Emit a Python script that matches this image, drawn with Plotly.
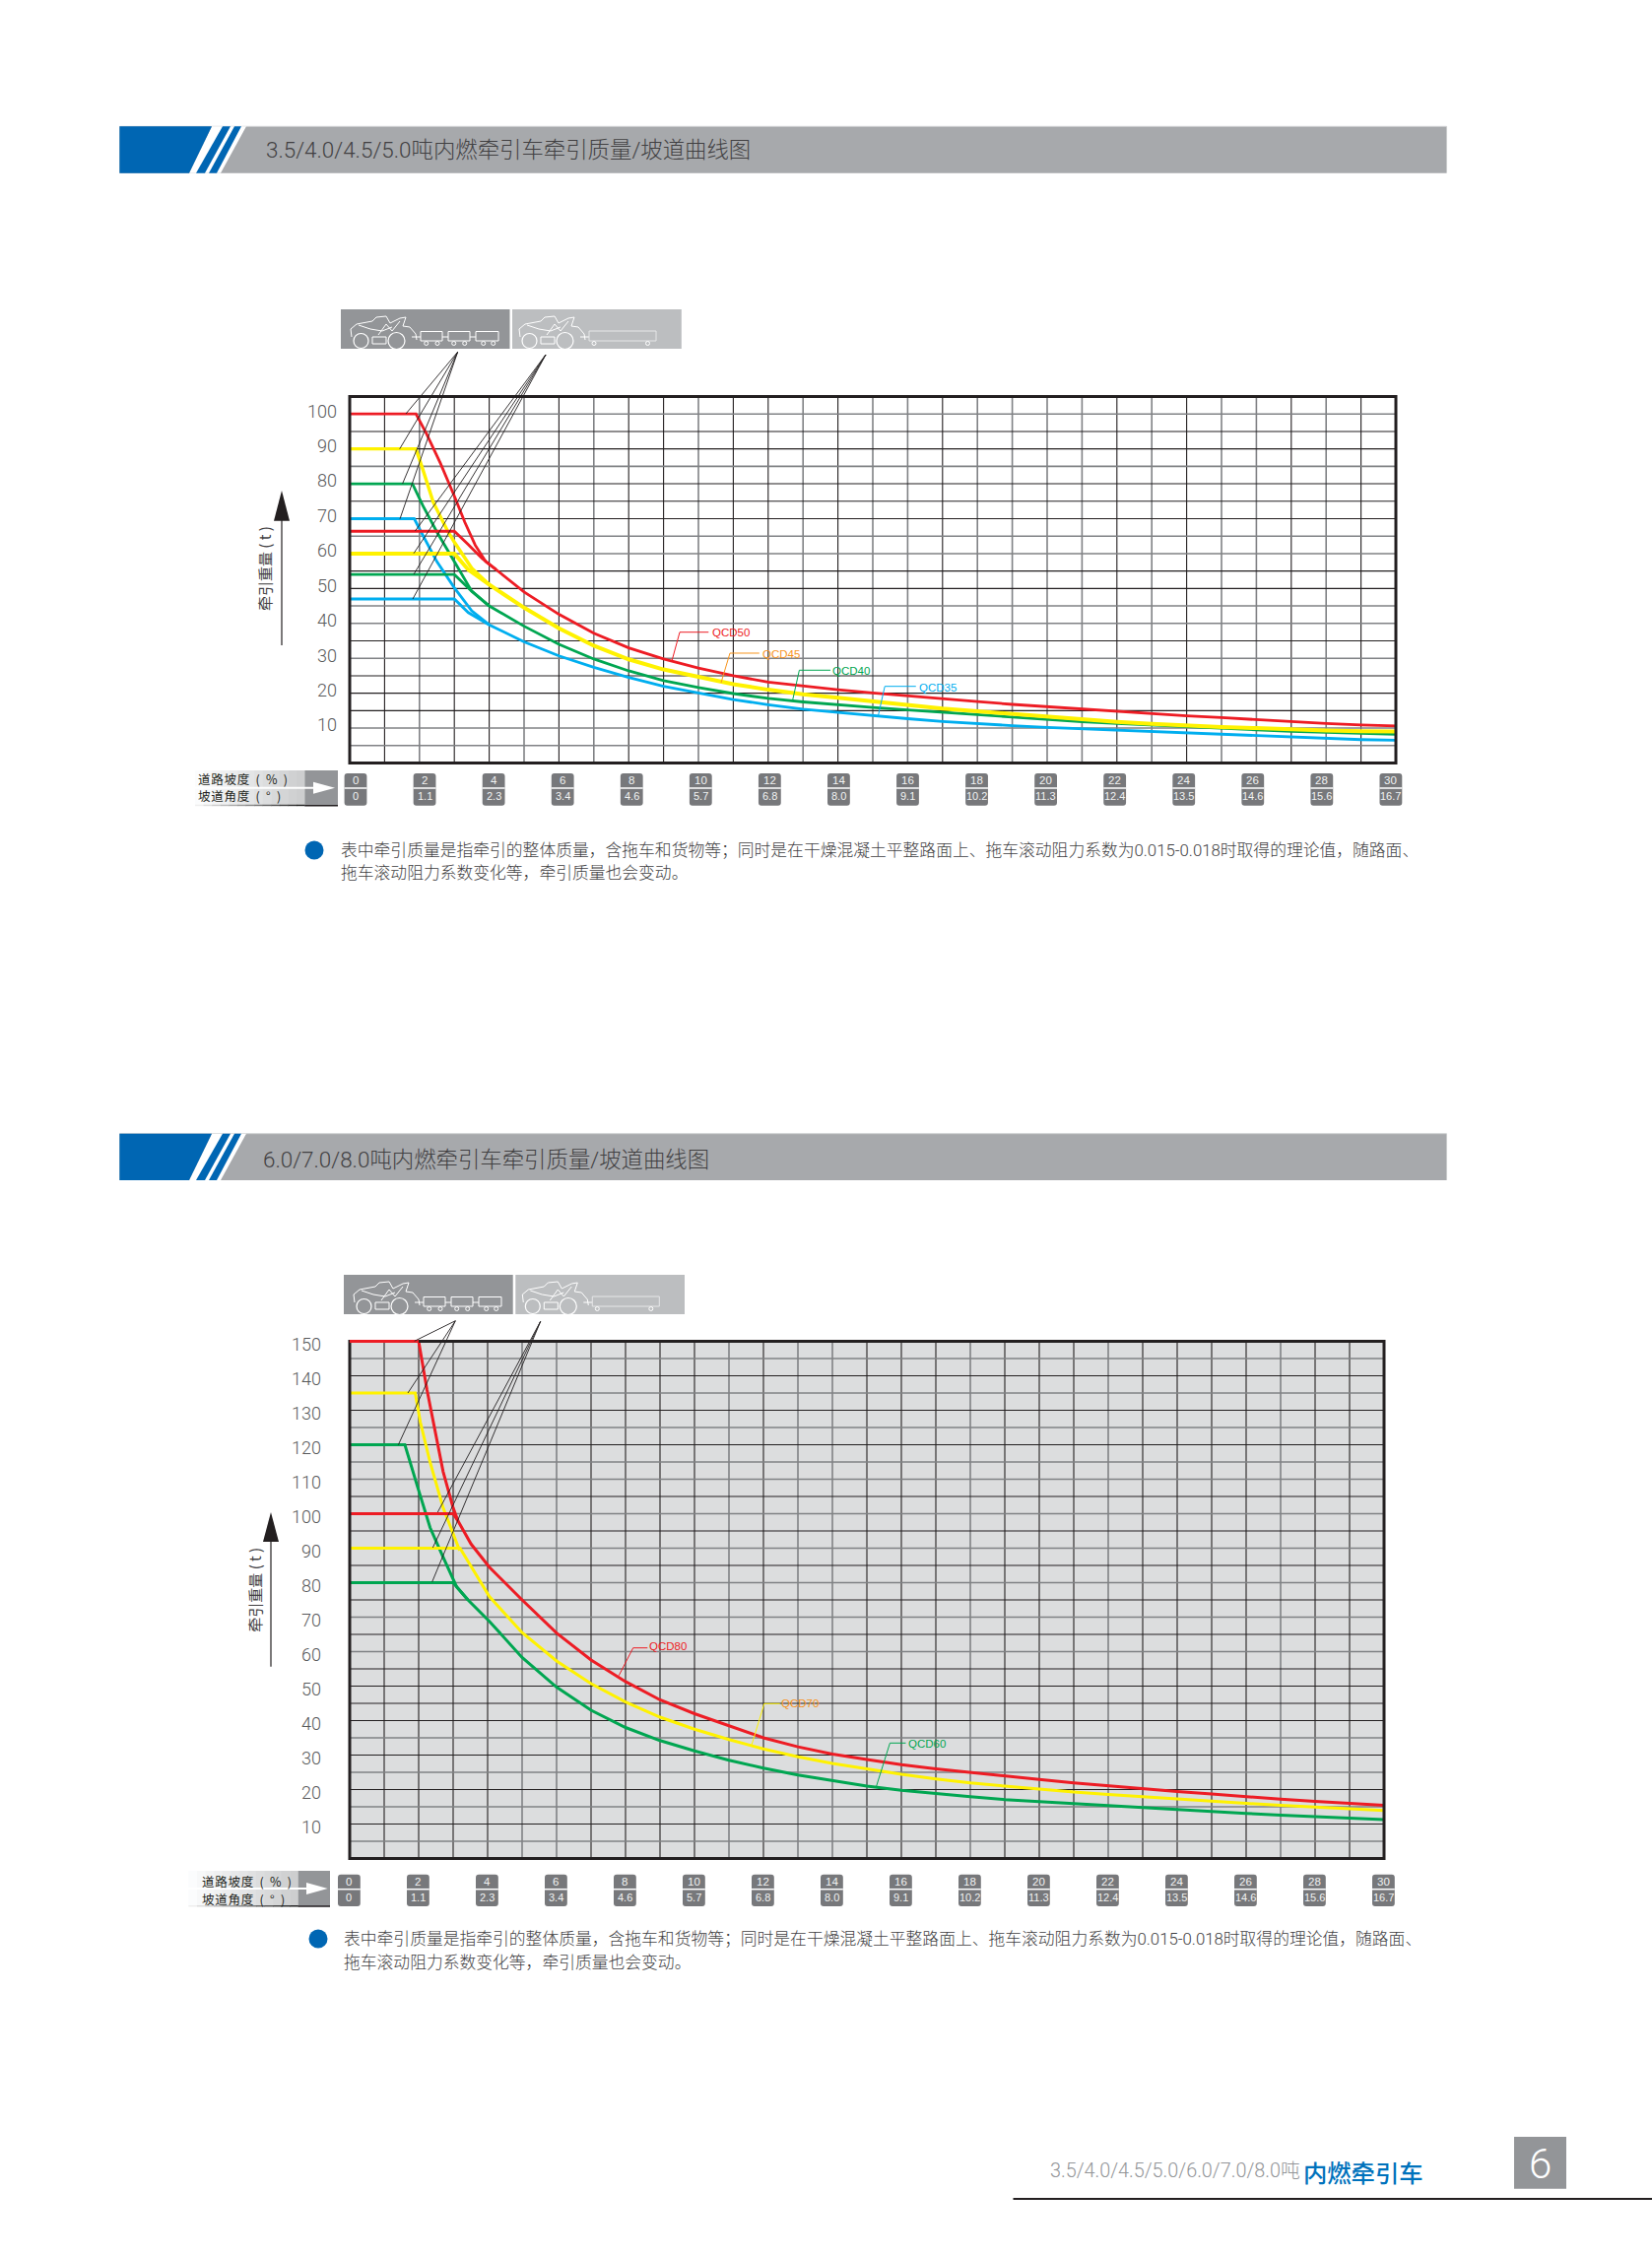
import plotly.graph_objects as go

W, H = 1677, 2291
TAIL_X = list(range(11, 31))

# ---------- chart 1 data ----------
QCD50_TOW_X = [0, 1.9, 2.2, 2.6, 3.0, 3.3, 3.6, 3.9, 4.2]
QCD50_TOW_Y = [100, 100, 94.4, 85.9, 76.5, 69, 62.4, 57.7, 55.4]
QCD50_FLAT_X = [0, 3.0, 3.4, 3.8, 4.2, 5, 6, 7, 8, 9, 10] + TAIL_X
QCD50_FLAT_Y = [66.4, 66.4, 62.6, 58.6, 55.4, 49, 42.6, 37.2, 33, 29.8, 27.2,
                25, 23.2, 22, 21, 20.1, 19.2, 18.4, 17.6, 16.8, 16.1, 15.4, 14.7, 14.1, 13.5, 13, 12.4, 11.8, 11.3, 10.9, 10.6]
QCD45_TOW_X = [0, 1.9, 2.1, 2.4, 2.8, 3.0, 3.5, 4.0]
QCD45_TOW_Y = [90, 90, 84, 74.6, 66.6, 63.3, 55.8, 51.1]
QCD45_FLAT_X = [0, 3.0, 3.4, 4.0, 5, 6, 7, 8, 9, 10] + TAIL_X
QCD45_FLAT_Y = [60, 60, 55.4, 51.1, 44.5, 38.6, 33.6, 29.7, 26.8, 24.6,
                22.6, 21, 19.7, 18.7, 17.6, 16.5, 15.6, 14.8, 14, 13.2, 12.4, 11.8, 11.2, 10.7, 10.3, 10, 9.6, 9.3, 9.1, 9.0]
QCD40_TOW_X = [0, 1.8, 2.1, 2.5, 3.0, 3.5, 4.0]
QCD40_TOW_Y = [80, 80, 73.7, 66.2, 57.7, 49.2, 45]
QCD40_FLAT_X = [0, 3.0, 3.5, 4.0, 5, 6, 7, 8, 9, 10] + TAIL_X
QCD40_FLAT_Y = [54, 54, 49.2, 45, 39.2, 34, 29.8, 26.4, 23.6, 21.6,
                19.9, 18.5, 17.5, 16.6, 15.9, 15.2, 14.5, 13.7, 13.1, 12.4, 11.8, 11.3, 10.8, 10.4, 10, 9.5, 9.1, 8.8, 8.5, 8.2]
QCD35_TOW_X = [0, 1.85, 2.1, 2.5, 3.0, 3.5, 4.0]
QCD35_TOW_Y = [70, 70, 65.2, 57.7, 50.2, 43.6, 39.6]
QCD35_FLAT_X = [0, 3.0, 3.4, 4.0, 5, 6, 7, 8, 9, 10] + TAIL_X
QCD35_FLAT_Y = [47, 47, 43.1, 39.6, 34.7, 30.7, 27.4, 24.5, 22, 20,
                18.2, 16.7, 15.4, 14.5, 13.5, 12.7, 11.9, 11.2, 10.7, 10.2, 9.8, 9.4, 9, 8.6, 8.2, 7.8, 7.4, 7, 6.7, 6.5]

# ---------- chart 2 data ----------
QCD80_TOW_X = [0, 2.0, 2.24, 2.43, 2.71, 3.0, 3.14]
QCD80_TOW_Y = [150, 150, 136, 126.5, 112.2, 101.7, 97.9]
QCD80_FLAT_X = [0, 3.0, 3.14, 3.52, 4.05, 5, 6, 7, 8, 9, 10] + TAIL_X
QCD80_FLAT_Y = [100, 100, 97.9, 91.2, 84.5, 75, 65.4, 57.6, 51.3, 46, 42,
                38.4, 35, 32.4, 30.3, 28.7, 27.2, 26, 24.9, 23.8, 22.9, 21.9, 21, 20.2, 19.4, 18.7, 17.9, 17.2, 16.6, 16, 15.4]
QCD70_TOW_X = [0, 1.9, 2.05, 2.33, 2.71, 3.0, 3.19]
QCD70_TOW_Y = [135, 135, 126.5, 115, 101.7, 94, 89.3]
QCD70_FLAT_X = [0, 3.2, 4.05, 5, 6, 7, 8, 9, 10] + TAIL_X
QCD70_FLAT_Y = [90, 90, 76, 65.5, 57.3, 50.7, 45.4, 41, 37.5,
                34.5, 31.8, 29.5, 27.6, 25.9, 24.4, 23.1, 21.9, 21, 20.1, 19.3, 18.6, 17.9, 17.2, 16.7, 16, 15.4, 14.9, 14.4, 13.9]
QCD60_TOW_X = [0, 1.6, 1.95, 2.33, 2.71, 3.1, 3.43]
QCD60_TOW_Y = [120, 120, 108.4, 96, 87.4, 78.8, 75]
QCD60_FLAT_X = [0, 3.0, 3.43, 4.05, 5, 6, 7, 8, 9, 10] + TAIL_X
QCD60_FLAT_Y = [80, 80, 75, 68.8, 58.3, 49.7, 43, 38, 34.2, 31.2,
                28.5, 26.2, 24.2, 22.5, 21, 19.8, 18.8, 17.9, 17.1, 16.5, 15.9, 15.3, 14.8, 14.3, 13.7, 13.1, 12.6, 12.1, 11.6, 11.3]

# ---------- axis labels ----------
GRADE_PCT = [0, 2, 4, 6, 8, 10, 12, 14, 16, 18, 20, 22, 24, 26, 28, 30]
GRADE_DEG = ["0", "1.1", "2.3", "3.4", "4.6", "5.7", "6.8", "8.0", "9.1", "10.2", "11.3", "12.4", "13.5", "14.6", "15.6", "16.7"]
Y1_TICKS = [10, 20, 30, 40, 50, 60, 70, 80, 90, 100]
Y2_TICKS = [10, 20, 30, 40, 50, 60, 70, 80, 90, 100, 110, 120, 130, 140, 150]
# grid lines drawn lighter and heavier
C1_V_LIGHT = [2, 5, 7, 10, 13, 15, 16, 18, 19, 20, 21, 23, 25, 26, 28]
C1_H_LIGHT = [100, 85, 65, 60, 45, 40, 30, 10, 5]
C2_V_LIGHT = [5, 6, 11, 13, 14, 18, 22, 27]
C2_H_LIGHT = [145, 135, 125, 115, 110, 100, 90, 80, 70, 60, 35, 25, 15, 5]

NOTE1 = "表中牵引质量是指牵引的整体质量，含拖车和货物等；同时是在干燥混凝土平整路面上、拖车滚动阻力系数为0.015-0.018时取得的理论值，随路面、"
NOTE2 = "拖车滚动阻力系数变化等，牵引质量也会变动。"
TITLE1 = "3.5/4.0/4.5/5.0吨内燃牵引车牵引质量/坡道曲线图"
TITLE2 = "6.0/7.0/8.0吨内燃牵引车牵引质量/坡道曲线图"
SLOPE_PCT = "道\u200a路\u200a坡\u200a度\u2002(\u2002%\u2002)"
SLOPE_DEG = "坡\u200a道\u200a角\u200a度\u2002(\u2002°\u2002)"
Y_TITLE = "牵引重量 ( t )"

RED, YEL, GRN, BLU, ORG = "#ed1c24", "#fff200", "#00a651", "#00aeef", "#f7941d"
GREY_BAR, BLUE_BAR = "#a7a9ac", "#0066b3"
INK = "#231f20"
FONT = "Liberation Sans, Noto Sans CJK SC"
LIGHT = "Roboto, Noto Sans CJK SC"
CJK = "Noto Sans CJK SC"


def PX(x):
    return x / W


def PY(y):
    return 1 - y / H


shapes = []
annos = []


def rect(x0, y0, x1, y1, fill, line=None, lw=0, layer="above"):
    shapes.append(dict(type="rect", xref="paper", yref="paper", x0=PX(x0), x1=PX(x1), y0=PY(y0), y1=PY(y1),
                       fillcolor=fill, line=dict(color=line or fill, width=lw), layer=layer))


def poly(pts, fill=None, line=None, lw=0, close=True):
    d = "M" + " L".join(f"{PX(a):.5f},{PY(b):.5f}" for a, b in pts) + (" Z" if close else "")
    s = dict(type="path", xref="paper", yref="paper", path=d, layer="above",
             line=dict(color=line or "rgba(0,0,0,0)", width=lw))
    if fill:
        s["fillcolor"] = fill
    shapes.append(s)


def seg(x0, y0, x1, y1, color, lw):
    shapes.append(dict(type="line", xref="paper", yref="paper", x0=PX(x0), x1=PX(x1), y0=PY(y0), y1=PY(y1),
                       line=dict(color=color, width=lw), layer="above"))


def circ(cx, cy, r, color="#ffffff", lw=1, fill=None):
    shapes.append(dict(type="circle", xref="paper", yref="paper", x0=PX(cx - r), x1=PX(cx + r), y0=PY(cy + r),
                       y1=PY(cy - r), line=dict(color=color, width=lw), fillcolor=fill or "rgba(0,0,0,0)", layer="above"))


def text(x, y, s, size, color, anchor="left", family=FONT, angle=0, weight=None):
    f = dict(size=size, color=color, family=family)
    if weight:
        f["weight"] = weight
    annos.append(dict(xref="paper", yref="paper", x=PX(x), y=PY(y), text=s, showarrow=False, xanchor=anchor,
                      yanchor="middle", font=f, textangle=angle, borderpad=0, borderwidth=0))


def header(y0, y1, title, tx, ty):
    rect(121.4, y0, 1468.6, y1, GREY_BAR)
    seg(121.4, y0, 1468.6, y0, "#d1d3d4", 1)
    poly([(192, y1), (215, y0), (250, y0), (224, y1)], fill="#ffffff")
    poly([(121.4, y0), (215, y0), (192, y1), (121.4, y1)], fill=BLUE_BAR)
    poly([(226, y0), (234, y0), (208, y1), (199, y1)], fill=BLUE_BAR)
    poly([(238, y0), (245, y0), (220, y1), (212, y1)], fill=BLUE_BAR)
    text(tx, ty, title, 22.4, "#414042", family=LIGHT, weight=300)


def rig(bx, by, flat):
    dx = -3 if flat else 0
    o = lambda pts: [(bx + a + dx, by + b) for a, b in pts]
    poly(o([(11, 28), (10, 20), (16, 15), (32, 12), (36, 8), (46, 7), (50, 14), (60, 9), (66, 8), (63, 17), (70, 18), (76, 25), (77, 31)]),
         line="#ffffff", lw=1, close=False)
    poly(o([(18, 16), (30, 20), (42, 22), (52, 18)]), line="#ffffff", lw=1, close=False)
    poly(o([(32, 28), (46, 28), (46, 35), (32, 35)]), line="#ffffff", lw=1)
    poly(o([(38, 26), (46, 15), (52, 22), (60, 12)]), line="#ffffff", lw=1, close=False)
    circ(bx + 20.5 + dx, by + 32, 7.5, lw=1.2)
    circ(bx + 56.5 + dx, by + 32, 8.5, lw=1.2)
    if flat:
        seg(bx + 69, by + 28, bx + 78, by + 28, "#ffffff", 1)
        rect(bx + 78, by + 22, bx + 146, by + 32, "rgba(0,0,0,0)", "#e6e7e8", 1)
        circ(bx + 83, by + 34.5, 2, fill=None)
        circ(bx + 137.5, by + 34.5, 2, fill=None)
    else:
        seg(bx + 72, by + 28, bx + 81, by + 28, "#ffffff", 1)
        for a, b in [(81, 103), (109, 131), (137, 160)]:
            rect(bx + a, by + 22.5, bx + b, by + 32, "rgba(0,0,0,0)", "#ffffff", 1)
        seg(bx + 103, by + 28, bx + 109, by + 28, "#ffffff", 1)
        seg(bx + 131, by + 28, bx + 137, by + 28, "#ffffff", 1)
        for a in (86.7, 98, 114.7, 125.7, 144.7, 154.7):
            circ(bx + a, by + 34.5, 2)


def grade_strip(y0, y1, ysep, base, step, lab_x, y_a, y_b, box_x0, box_x1, head_x0, head_x1):
    n = 14
    for i in range(n):
        t = i / (n - 1)
        g = int(255 - (255 - 205) * t)
        rect(box_x0 - 120 + i * 120 / n, y0, box_x0 - 120 + (i + 1) * 120 / n + 0.5, y1 - 1, f"rgb({g},{g + 1},{g + 2})")
        d = int(255 - (255 - 35) * t)
        rect(box_x0 - 120 + i * 120 / n, y1 - 1, box_x0 - 120 + (i + 1) * 120 / n + 0.5, y1 + 0.5, f"rgb({d},{d},{d})")
    rect(box_x0, y0, box_x1, y1, "#939598")
    seg(box_x0, y1, box_x1, y1, INK, 1.5)
    ym = (y0 + y1) / 2
    rect(box_x0 - 120, ym - 1, head_x0 + 1, ym + 1, "#ffffff")
    poly([(head_x0, ym - 6), (head_x1, ym), (head_x0, ym + 6)], fill="#ffffff")
    text(lab_x, y_a, SLOPE_PCT, 12.5, "#231f20", family=CJK)
    text(lab_x, y_b, SLOPE_DEG, 12.5, "#231f20", family=CJK)
    for g, a in zip(GRADE_PCT, GRADE_DEG):
        c = base + step * g
        l, r, q = c - 11.4, c + 11.4, 3
        t0, t1 = ysep - 15, y1
        d = (f"M{PX(l + q)},{PY(t0)} L{PX(r - q)},{PY(t0)} Q{PX(r)},{PY(t0)} {PX(r)},{PY(t0 + q)} "
             f"L{PX(r)},{PY(t1 - q)} Q{PX(r)},{PY(t1)} {PX(r - q)},{PY(t1)} L{PX(l + q)},{PY(t1)} "
             f"Q{PX(l)},{PY(t1)} {PX(l)},{PY(t1 - q)} L{PX(l)},{PY(t0 + q)} Q{PX(l)},{PY(t0)} {PX(l + q)},{PY(t0)} Z")
        shapes.append(dict(type="path", xref="paper", yref="paper", path=d, fillcolor="#77787b",
                           line=dict(color="#77787b", width=0), layer="above"))
        seg(l, ysep, r, ysep, "#ffffff", 1.5)
        text(c, ysep - 7.5, str(g), 11.5, "#f1f2f2", "center")
        text(c, ysep + 8, a, 11, "#f1f2f2", "center")


def note(cx, cy, tx, y1, y2):
    shapes.append(dict(type="circle", xref="paper", yref="paper", x0=PX(cx - 9.5), x1=PX(cx + 9.5), y0=PY(cy + 9.5),
                       y1=PY(cy - 9.5), fillcolor=BLUE_BAR, line=dict(width=0), layer="above"))
    text(tx, y1, NOTE1, 16.8, "#414042", family=LIGHT, weight=300)
    text(tx, y2, NOTE2, 16.8, "#414042", family=LIGHT, weight=300)


def grid(xa, ya, xmax, ymax, step_y, v_light, h_light):
    for v in range(1, xmax):
        light = v in v_light
        shapes.append(dict(type="line", xref=xa, yref=ya, x0=v, x1=v, y0=0, y1=ymax, layer="below",
                           line=dict(color="#808285" if light else "#231f20", width=1.6 if light else 1.1)))
    y = step_y
    while y < ymax:
        light = y in h_light
        shapes.append(dict(type="line", xref=xa, yref=ya, x0=0, x1=xmax, y0=y, y1=y, layer="below",
                           line=dict(color="#808285" if light else "#231f20", width=1.6 if light else 1.1)))
        y += step_y


fig = go.Figure()


def curve(x, y, color, name, ax, width):
    fig.add_trace(go.Scatter(x=x, y=y, mode="lines", name=name, line=dict(color=color, width=width, shape="linear"),
                             xaxis=ax[0], yaxis=ax[1], cliponaxis=False, showlegend=False, hoverinfo="skip"))


A1, A2 = ("x", "y"), ("x2", "y2")
curve(QCD35_TOW_X, QCD35_TOW_Y, BLU, "QCD35", A1, 2.8)
curve(QCD35_FLAT_X, QCD35_FLAT_Y, BLU, "QCD35", A1, 2.8)
curve(QCD40_TOW_X, QCD40_TOW_Y, GRN, "QCD40", A1, 2.8)
curve(QCD40_FLAT_X, QCD40_FLAT_Y, GRN, "QCD40", A1, 2.8)
curve(QCD45_TOW_X, QCD45_TOW_Y, YEL, "QCD45", A1, 3.4)
curve(QCD45_FLAT_X, QCD45_FLAT_Y, YEL, "QCD45", A1, 4.0)
curve(QCD50_TOW_X, QCD50_TOW_Y, RED, "QCD50", A1, 2.8)
curve(QCD50_FLAT_X, QCD50_FLAT_Y, RED, "QCD50", A1, 2.8)
curve(QCD60_TOW_X, QCD60_TOW_Y, GRN, "QCD60", A2, 3)
curve(QCD60_FLAT_X, QCD60_FLAT_Y, GRN, "QCD60", A2, 3)
curve(QCD70_TOW_X, QCD70_TOW_Y, YEL, "QCD70", A2, 3)
curve(QCD70_FLAT_X, QCD70_FLAT_Y, YEL, "QCD70", A2, 3)
curve(QCD80_TOW_X, QCD80_TOW_Y, RED, "QCD80", A2, 3)
curve(QCD80_FLAT_X, QCD80_FLAT_Y, RED, "QCD80", A2, 3)

grid("x", "y", 30, 105, 5, C1_V_LIGHT, C1_H_LIGHT)
grid("x2", "y2", 30, 150, 5, C2_V_LIGHT, C2_H_LIGHT)

# page furniture
header(128.3, 175.7, TITLE1, 269.6, 151.5)
header(1150.7, 1198, TITLE2, 266.5, 1177)

# frames
rect(355, 402.5, 1417, 774.5, "rgba(0,0,0,0)", INK, 3)
rect(355, 1361.5, 1405, 1886.5, "rgba(0,0,0,0)", INK, 3)
# red plateau sits on the top frame of chart 2
seg(355, 1361.5, 355 + 35 * QCD80_TOW_X[1], 1361.5, RED, 3)

# rig boxes
rect(346, 314, 517.5, 354, "#939598")
rect(520, 314, 691.8, 354, "#bcbec0")
rig(346, 314, False)
rig(520, 314, True)
rect(349, 1294, 520.7, 1334, "#939598")
rect(523.3, 1294, 695, 1334, "#bcbec0")
rig(349, 1294, False)
rig(523.3, 1294, True)

# pointer lines
for e in [(412, 420), (405.7, 455.7), (408.6, 491), (406, 526.7)]:
    seg(464.6, 357.3, e[0], e[1], INK, 0.9)
for e in [(421.4, 539), (420, 561.7), (420, 583), (419, 608)]:
    seg(554, 360, e[0], e[1], INK, 0.9)
for e in [(420.7, 1361.3), (414, 1414), (404.3, 1466.7)]:
    seg(462.3, 1340.7, e[0], e[1], INK, 0.9)
for e in [(444.3, 1535), (439.3, 1571), (438.7, 1605.7)]:
    seg(548.7, 1341.3, e[0], e[1], INK, 0.9)


# model call-outs
def callout(pts, color, label, lx, ly, tcolor=None):
    poly(pts, line=color, lw=1, close=False)
    text(lx, ly, label, 11.5, tcolor or color)


callout([(681.8, 671.7), (690, 641.7), (719.3, 641.7)], RED, "QCD50", 723, 642.3)
callout([(732, 693), (741, 663), (770.8, 663)], ORG, "QCD45", 774, 663.5)
callout([(804.8, 710), (811.4, 680.3), (843, 680.3)], GRN, "QCD40", 845.4, 681)
callout([(891.6, 726), (898.2, 696.7), (929.8, 696.7)], BLU, "QCD35", 932.6, 697.5)
callout([(628.3, 1700.7), (642.7, 1672.7), (657.3, 1672.7)], RED, "QCD80", 659.3, 1671.5)
callout([(762.9, 1771.7), (775.8, 1729.3), (791.8, 1729.3)], YEL, "QCD70", 793.2, 1729, ORG)
callout([(889.6, 1813.3), (903.4, 1769.3), (919.5, 1769.3)], GRN, "QCD60", 922.2, 1770.3)

# y-axis titles and arrows
seg(286, 655, 286, 525, INK, 1.2)
poly([(286, 498), (294, 528.7), (278, 528.7)], fill=INK)
text(268.6, 577.5, Y_TITLE, 15, "#414042", "center", CJK, -90)
seg(275, 1691.7, 275, 1560, INK, 1.2)
poly([(275, 1535), (283, 1565), (267, 1565)], fill=INK)
text(257.7, 1614, Y_TITLE, 15, "#414042", "center", CJK, -90)

grade_strip(782, 817.7, 800, 361, 35.03, 201, 790.7, 808, 309.5, 343, 318, 340)
grade_strip(1899, 1935, 1917.7, 354.4, 35.0, 204.5, 1910, 1927.7, 302.8, 335, 311, 332.7)

note(319, 863, 346, 862.7, 886)
note(323, 1968, 349, 1967.7, 1991.7)

# footer
seg(1028.5, 2232, 1677, 2232, INK, 2)
rect(1537, 2169, 1590, 2221.7, "#939598")
text(1563.5, 2196, "6", 42, "#ffffff", "center", family=LIGHT, weight=300)
text(1065.6, 2203, "3.5/4.0/4.5/5.0/6.0/7.0/8.0吨", 19.8, "#939598", family=LIGHT, weight=300)
text(1323, 2204, "内燃牵引车", 24.3, "#0072bc", family=CJK, weight=500)

axis_common = dict(showgrid=False, zeroline=False, showline=False, automargin=False)
tick_font = dict(size=18, color="#58595b", family=LIGHT, weight=300)
# chart 2 background sits under the transparent plot area
shapes_bg = dict(type="rect", xref="paper", yref="paper", x0=PX(355), x1=PX(1405), y0=PY(1886.5), y1=PY(1361.5),
                 fillcolor="#dcddde", line=dict(width=0), layer="below")
fig.update_layout(
    width=W, height=H, margin=dict(l=0, r=0, t=0, b=0, pad=0, autoexpand=False), autosize=False,
    paper_bgcolor="#ffffff", plot_bgcolor="rgba(0,0,0,0)", showlegend=False,
    font=dict(family=FONT, color="#58595b"), shapes=[shapes_bg] + shapes, annotations=annos,
    xaxis=dict(domain=[PX(355), PX(1417)], range=[0, 30], anchor="y", showticklabels=False, ticks="", **axis_common),
    yaxis=dict(domain=[PY(774.5), PY(402.5)], range=[0, 105], anchor="x", tickmode="array", tickvals=Y1_TICKS,
               ticks="", ticklabelstandoff=12, ticklabelshift=-3, tickfont=tick_font, **axis_common),
    xaxis2=dict(domain=[PX(355), PX(1405)], range=[0, 30], anchor="y2", showticklabels=False, ticks="", **axis_common),
    yaxis2=dict(domain=[PY(1886.5), PY(1361.5)], range=[0, 150], anchor="x2", tickmode="array", tickvals=Y2_TICKS,
                ticks="", ticklabelstandoff=28, ticklabelshift=3, tickfont=tick_font, **axis_common),
)

fig.write_html("out.html", config={"displayModeBar": False},
               post_script="document.body.style.margin='0';document.body.style.overflow='hidden';")
